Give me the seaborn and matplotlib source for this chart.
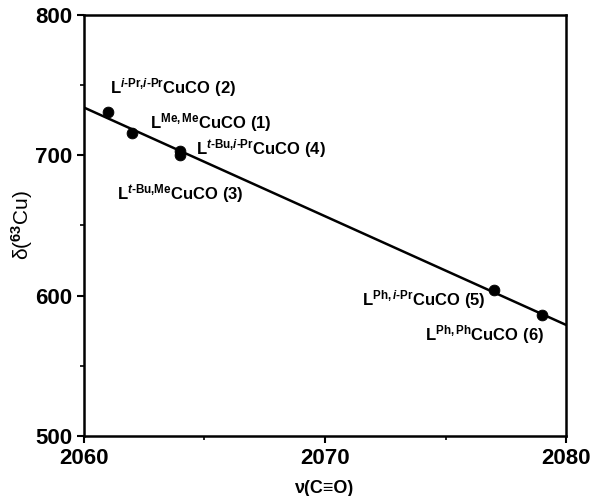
import matplotlib
matplotlib.use("Agg")
import matplotlib.pyplot as plt
from matplotlib.ticker import MultipleLocator
import numpy as np
import pandas as pd
import seaborn as sns

# values
nu_co = [2062, 2061, 2064, 2064, 2077, 2079]
delta_cu = [716, 731, 703, 700, 604, 586]
labels = [
    r"L$^{\mathrm{Me,Me}}$CuCO (1)",
    r"L$^{\mathit{i}\text{-Pr,}\mathit{i}\text{-Pr}}$CuCO (2)",
    r"L$^{\mathit{t}\text{-Bu,Me}}$CuCO (3)",
    r"L$^{\mathit{t}\text{-Bu,}\mathit{i}\text{-Pr}}$CuCO (4)",
    r"L$^{\mathrm{Ph,}\mathit{i}\text{-Pr}}$CuCO (5)",
    r"L$^{\mathrm{Ph,Ph}}$CuCO (6)",
]
label_x = [2062.74, 2061.08, 2061.37, 2064.65, 2071.53, 2074.15]
label_y = [719.2, 744.4, 668.6, 700.5, 593.3, 568.3]

df = pd.DataFrame({"nu": nu_co, "delta": delta_cu})

sns.set_style("ticks")
plt.rcParams["font.family"] = ["Liberation Sans", "DejaVu Sans"]
plt.rcParams["mathtext.fontset"] = "custom"
plt.rcParams["mathtext.rm"] = "Liberation Sans:bold"
plt.rcParams["mathtext.it"] = "Liberation Sans:bold:italic"
plt.rcParams["mathtext.bf"] = "Liberation Sans:bold"
for key in ["axes.edgecolor", "text.color", "axes.labelcolor",
            "xtick.color", "ytick.color"]:
    plt.rcParams[key] = "black"

fig = plt.figure(figsize=(5.91, 4.96), dpi=100)
ax = fig.add_axes([0.142, 0.121, 0.816, 0.849])
ax.set_xlim(2060, 2080)
ax.set_ylim(500, 800)

sns.regplot(data=df, x="nu", y="delta", ax=ax, scatter=False, ci=None,
            truncate=False, line_kws={"color": "black", "lw": 1.8})
sns.scatterplot(data=df, x="nu", y="delta", ax=ax, color="black", s=60,
                edgecolor="black", zorder=3)

for lx, ly, t in zip(label_x, label_y, labels):
    ax.text(lx, ly, t, fontsize=12, fontweight="bold", va="baseline", ha="left")

ax.set_xlim(2060, 2080)
ax.set_ylim(500, 800)
ax.xaxis.set_major_locator(MultipleLocator(10))
ax.xaxis.set_minor_locator(MultipleLocator(5))
ax.yaxis.set_major_locator(MultipleLocator(100))
ax.yaxis.set_minor_locator(MultipleLocator(50))
ax.tick_params(which="major", direction="out", length=5, width=1.5, labelsize=16)
ax.tick_params(which="minor", direction="out", length=3, width=1.2)
for lab in ax.get_xticklabels() + ax.get_yticklabels():
    lab.set_fontweight("bold")
for sp in ax.spines.values():
    sp.set_visible(True)
    sp.set_linewidth(1.8)

ax.set_xlabel("ν(C≡O)", fontsize=13, fontweight="bold", labelpad=8)
ax.set_ylabel(r"δ($^{63}$Cu)", fontsize=15, labelpad=0)

fig.savefig("out.png", dpi=100)
